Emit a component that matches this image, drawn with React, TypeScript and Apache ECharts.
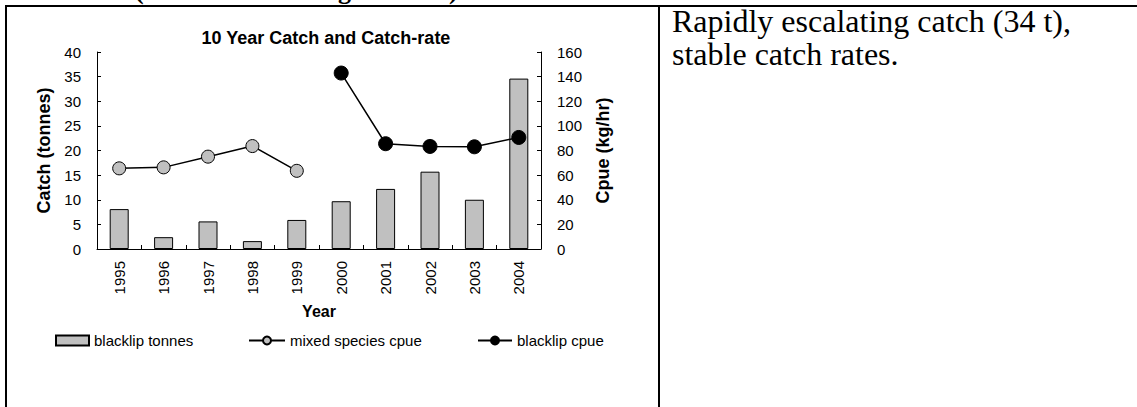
import React, { useEffect, useRef } from "react";
import * as echarts from "echarts";

const years = ["1995", "1996", "1997", "1998", "1999", "2000", "2001", "2002", "2003", "2004"];
const blacklipTonnes = [8.1, 2.4, 5.6, 1.6, 5.9, 9.7, 12.2, 15.7, 10.0, 34.6];
const mixedSpeciesCpue = [65.5, 66.3, 75.0, 83.6, 63.5, null, null, null, null, null];
const blacklipCpue = [null, null, null, null, null, 142.9, 85.5, 83.3, 83.0, 90.6];
const catchAxis = { min: 0, max: 40, interval: 5 };
const cpueAxis = { min: 0, max: 160, interval: 20 };
const chartTitle = "10 Year Catch and Catch-rate";
const seriesNames = ["blacklip tonnes", "mixed species cpue", "blacklip cpue"];
const commentLines = ["Rapidly escalating catch (34 t),", "stable catch rates."];

const SANS = "'Liberation Sans', Arial, sans-serif";
const SERIF = "'Liberation Serif', 'Times New Roman', serif";

function Chart() {
  const ref = useRef<HTMLDivElement>(null);
  useEffect(() => {
    if (!ref.current) return;
    const chart = echarts.init(ref.current, null, { renderer: "svg" });
    const tickLabel = { color: "#000", fontSize: 15, fontFamily: SANS };
    const nameStyle = { color: "#000", fontSize: 18, fontWeight: "bold" as const, fontFamily: SANS };
    const legendText = { color: "#000", fontSize: 15, fontFamily: SANS };
    chart.setOption({
      animation: false,
      graphic: [
        {
          type: "text",
          x: 326,
          y: 38,
          style: {
            text: chartTitle,
            align: "center",
            verticalAlign: "middle",
            fontSize: 18,
            fontWeight: "bold",
            fontFamily: SANS,
            fill: "#000",
          },
        },
      ],
      grid: { left: 97, top: 52, width: 444, height: 197, containLabel: false },
      legend: [
        {
          data: [{ name: seriesNames[0], icon: "rect" }],
          left: 55,
          top: 333,
          padding: 0,
          itemWidth: 33,
          itemHeight: 10,
          textStyle: legendText,
        },
        {
          data: [seriesNames[1]],
          left: 248,
          top: 333,
          padding: 0,
          itemWidth: 36,
          itemHeight: 10,
          textStyle: legendText,
        },
        {
          data: [seriesNames[2]],
          left: 477,
          top: 333,
          padding: 0,
          itemWidth: 34,
          itemHeight: 10,
          textStyle: legendText,
        },
      ],
      xAxis: {
        type: "category",
        data: years,
        boundaryGap: true,
        name: "Year",
        nameLocation: "middle",
        nameGap: 54,
        nameTextStyle: { ...nameStyle, fontSize: 16 },
        axisLine: { show: true, lineStyle: { color: "#000", width: 1 } },
        axisTick: { show: true, inside: true, length: 4, interval: 0, lineStyle: { color: "#000" } },
        axisLabel: { ...tickLabel, rotate: 90, margin: 12, interval: 0 },
        splitLine: { show: false },
      },
      yAxis: [
        {
          type: "value",
          min: catchAxis.min,
          max: catchAxis.max,
          interval: catchAxis.interval,
          name: "Catch (tonnes)",
          nameLocation: "middle",
          nameGap: 40,
          nameTextStyle: nameStyle,
          axisLine: { show: true, lineStyle: { color: "#000", width: 1 } },
          axisTick: { show: true, inside: true, length: 4, lineStyle: { color: "#000" } },
          axisLabel: { ...tickLabel, margin: 16 },
          splitLine: { show: false },
        },
        {
          type: "value",
          min: cpueAxis.min,
          max: cpueAxis.max,
          interval: cpueAxis.interval,
          position: "right",
          name: "Cpue (kg/hr)",
          nameLocation: "middle",
          nameGap: 53,
          nameTextStyle: nameStyle,
          axisLine: { show: true, lineStyle: { color: "#000", width: 1 } },
          axisTick: { show: true, inside: true, length: 4, lineStyle: { color: "#000" } },
          axisLabel: { ...tickLabel, margin: 16 },
          splitLine: { show: false },
        },
      ],
      series: [
        {
          name: seriesNames[0],
          type: "bar",
          data: blacklipTonnes,
          yAxisIndex: 0,
          barWidth: 19,
          itemStyle: { color: "#c0c0c0", borderColor: "#000", borderWidth: 1 },
        },
        {
          name: seriesNames[1],
          type: "line",
          data: mixedSpeciesCpue,
          yAxisIndex: 1,
          symbol: "circle",
          symbolSize: 13,
          lineStyle: { color: "#000", width: 1.5 },
          itemStyle: { color: "#c0c0c0", borderColor: "#000", borderWidth: 1 },
          z: 3,
        },
        {
          name: seriesNames[2],
          type: "line",
          data: blacklipCpue,
          yAxisIndex: 1,
          symbol: "circle",
          symbolSize: 14,
          lineStyle: { color: "#000", width: 1.5 },
          itemStyle: { color: "#000", borderColor: "#000", borderWidth: 1 },
          z: 3,
        },
      ],
    });
    return () => chart.dispose();
  }, []);
  return <div ref={ref} style={{ position: "absolute", left: 0, top: 0, width: 657, height: 407 }} />;
}

export default function App() {
  const fragGlyph = (ch: string, left: number) => (
    <span style={{ position: "absolute", left, top: -22, fontFamily: SERIF, fontWeight: "bold", fontSize: 26, lineHeight: "26px" }}>
      {ch}
    </span>
  );
  return (
    <div
      style={{
        position: "fixed",
        left: 0,
        top: 0,
        width: 1137,
        height: 407,
        overflow: "hidden",
        background: "#fff",
      }}
    >
      <div style={{ position: "absolute", left: 0, top: 0, width: 1137, height: 5, overflow: "hidden" }}>
        {fragGlyph("(", 135)}
        {fragGlyph("g", 338)}
        {fragGlyph(")", 449)}
      </div>
      <div style={{ position: "absolute", left: 5, top: 5, width: 1132, height: 2, background: "#000" }} />
      <div style={{ position: "absolute", left: 5, top: 5, width: 2, height: 402, background: "#000" }} />
      <div style={{ position: "absolute", left: 658, top: 5, width: 2, height: 402, background: "#000" }} />
      <Chart />
      <div
        style={{
          position: "absolute",
          left: 672,
          top: 5,
          fontFamily: SERIF,
          fontSize: 32,
          lineHeight: "33px",
          color: "#000",
          whiteSpace: "nowrap",
        }}
      >
        {commentLines.map((l, i) => (
          <div key={i}>{l}</div>
        ))}
      </div>
    </div>
  );
}
